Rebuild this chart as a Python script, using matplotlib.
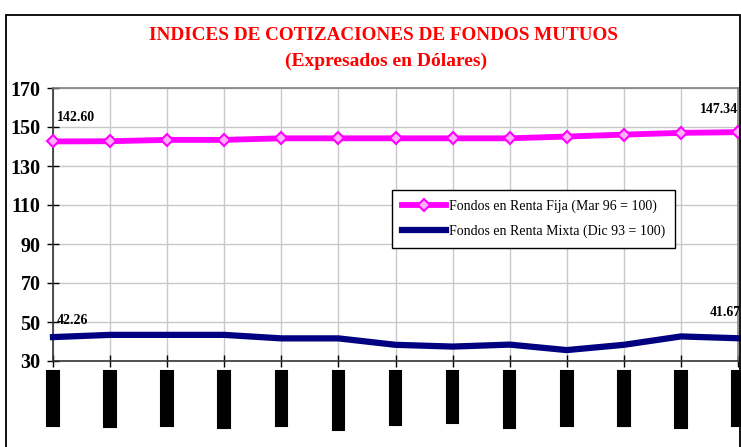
import matplotlib
matplotlib.use("Agg")
import matplotlib.pyplot as plt
from matplotlib.patches import Rectangle

meses = ["31 Dic 1996", "31 Ene 1997", "28 Feb 1997", "31 Mar 1997", "30 Abr 1997", "31 May 1997",
         "30 Jun 1997", "31 Jul 1997", "31 Ago 1997", "30 Sep 1997", "31 Oct 1997", "30 Nov 1997",
         "31 Dic 1997"]
renta_fija = [142.60, 142.7, 143.4, 143.4, 144.2, 144.2, 144.2, 144.2, 144.2, 145.1, 146.1, 147.0, 147.34]
renta_mixta = [42.26, 43.4, 43.4, 43.4, 41.6, 41.6, 38.3, 37.4, 38.4, 35.6, 38.3, 42.6, 41.67]
yticks = [30, 50, 70, 90, 110, 130, 150, 170]
titulo = "INDICES DE COTIZACIONES DE FONDOS MUTUOS"
subtitulo = "(Expresados en Dólares)"
leyenda = ["Fondos en Renta Fija (Mar 96 = 100)", "Fondos en Renta Mixta (Dic 93 = 100)"]

serif = ["Liberation Serif", "DejaVu Serif"]
W, H = 741, 447
fig = plt.figure(figsize=(W / 100, H / 100), dpi=100)
ax = fig.add_axes([53 / W, 1 - 361 / H, (738 - 53) / W, (361 - 88) / H])

# outer frame
fig.patches.append(Rectangle((6 / W, -0.05), (W - 7) / W, 1 - 15 / H + 0.05,
                             transform=fig.transFigure, fill=False, edgecolor="black",
                             linewidth=1.3))

x = list(range(len(meses)))
ax.plot(x, renta_fija, color="#FF00FF", linewidth=4.2, marker="D", markersize=6,
        markerfacecolor="#FFB0FF", markeredgecolor="#FF00FF", markeredgewidth=1.5,
        clip_on=False, zorder=3, label=leyenda[0])
ax.plot(x, renta_mixta, color="#000080", linewidth=4.5, clip_on=False, zorder=3,
        label=leyenda[1])

ax.set_xlim(0, len(meses) - 1)
ax.set_ylim(30, 170)
ax.set_yticks(yticks)
ax.set_yticklabels([str(v) for v in yticks], fontfamily=serif, fontweight="bold", fontsize=14.5)
ax.set_xticks(x)
ax.set_xticklabels(meses, rotation=90, fontfamily=serif, fontsize=7.6, color="black")
for lbl in ax.get_xticklabels():
    lbl.set_bbox(dict(facecolor="black", edgecolor="black", linewidth=1.5,
                      boxstyle="square,pad=0.12"))
ax.tick_params(axis="both", direction="inout", length=8, width=1, color="black")
ax.tick_params(axis="x", pad=4)
ax.tick_params(axis="y", pad=5)

ax.grid(True, color="#c8c8c8", linewidth=1)
ax.set_axisbelow(True)
ax.spines["left"].set_color("#333333")
ax.spines["bottom"].set_color("#333333")
ax.spines["top"].set_color("#808080")
ax.spines["right"].set_color("#808080")
for s in ax.spines.values():
    s.set_linewidth(1.2)

lab = dict(fontfamily=serif, fontweight="bold", fontsize=10, textcoords="offset pixels")
ax.annotate(f"{renta_fija[0]:.2f}", (0, renta_fija[0]), xytext=(4, 17), ha="left", va="bottom", **lab)
ax.annotate(f"{renta_fija[-1]:.2f}", (x[-1], renta_fija[-1]), xytext=(0, 16), ha="right", va="bottom", **lab)
ax.annotate(f"{renta_mixta[0]:.2f}", (0, renta_mixta[0]), xytext=(4, 10), ha="left", va="bottom", **lab)
ax.annotate(f"{renta_mixta[-1]:.2f}", (x[-1], renta_mixta[-1]), xytext=(3, 19), ha="right", va="bottom", **lab)

leg = ax.legend(loc="upper left", bbox_to_anchor=(0.495, 0.628), frameon=True, fancybox=False,
                edgecolor="black", framealpha=1, prop={"family": serif, "size": 10},
                handlelength=3.2, handletextpad=0.2, labelspacing=0.85, borderpad=0.7,
                borderaxespad=0)
leg.get_frame().set_linewidth(1)

fig.text(0.5 * (147 + 620) / W, 1 - 35 / H, titulo, color="red", fontfamily=serif,
         fontweight="bold", fontsize=13.8, ha="center", va="center")
fig.text(0.5 * (282 + 490) / W, 1 - 61 / H, subtitulo, color="red", fontfamily=serif,
         fontweight="bold", fontsize=14, ha="center", va="center")

fig.savefig("out.png", dpi=100)
